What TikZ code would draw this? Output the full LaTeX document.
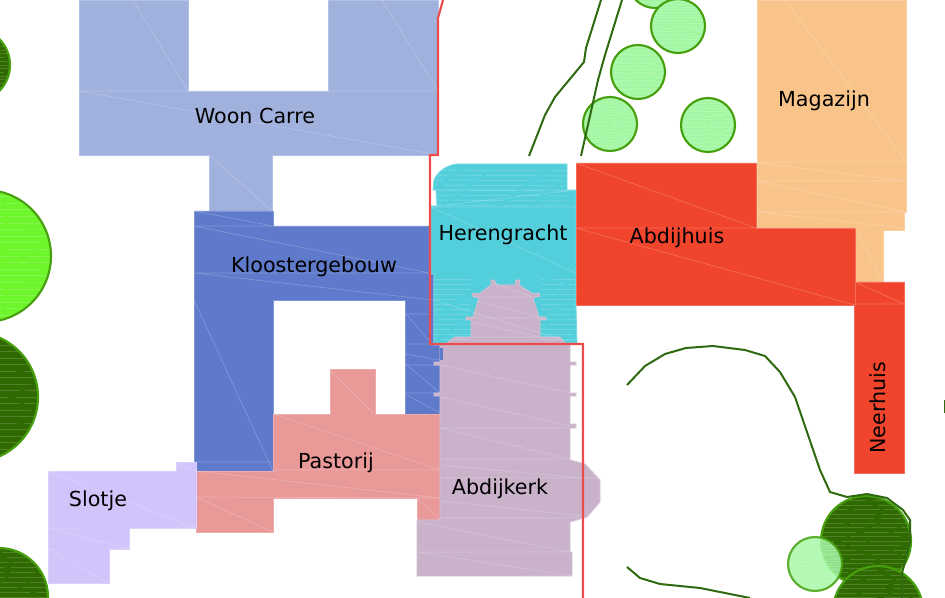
\documentclass[tikz,border=0pt]{standalone}
\usepackage{fontspec}
\setmainfont{DejaVu Sans}
\tikzset{
  building/.style={line width=0.6pt,draw=#1!80!white,fill=#1},
  seam/.style={white,opacity=0.22,line width=0.5pt},
  streak/.style={white,opacity=0.16,line width=0.7pt,dash pattern=on 19pt off 3pt on 38pt off 5pt},
  roomlabel/.style={font=\fontsize{15.5pt}{18pt}\selectfont,text=black,inner sep=0pt},
  pad/.style={line width=1.5pt,draw=pathgreen,line join=round},
  tree/.style={line width=1.6pt,draw=treeedge},
}
\definecolor{woon}{HTML}{A0B1DE}
\definecolor{kloos}{HTML}{5F7ACB}
\definecolor{heren}{HTML}{52CFDB}
\definecolor{kerk}{HTML}{C9B2CA}
\definecolor{past}{HTML}{EA9999}
\definecolor{slot}{HTML}{D1C4FB}
\definecolor{abdij}{HTML}{F0452C}
\definecolor{maga}{HTML}{F9C48A}
\definecolor{pathgreen}{HTML}{2F6A10}
\definecolor{treeedge}{HTML}{46A00E}
\definecolor{treelight}{HTML}{A3F7A3}
\definecolor{treedark}{HTML}{2F6A00}
\definecolor{treebright}{HTML}{6EF52C}
\definecolor{outline}{HTML}{EE4C4C}
\newcommand{\treeat}[4]{%
  \begin{scope}
    \clip (#1,#2) circle (#3);
    \fill[#4] (#1,#2) circle (#3);
    \foreach \k in {-9,...,9}
      \draw[streak,dash phase={mod(\k*\k*11+50,61)*1pt}] (#1-#3,{#2+\k*#3/10}) -- (#1+#3,{#2+\k*#3/10});
  \end{scope}
  \draw[tree] (#1,#2) circle (#3);}
\begin{document}
\begin{tikzpicture}[x=0.75pt,y=-0.75pt]
  \useasboundingbox (0,0) rectangle (945,598);

  % trees on the left
  \treeat{-27}{65}{37}{treedark}
  \treeat{-15}{256}{66}{treebright}
  \treeat{-27}{397}{65}{treedark}
  \treeat{-1}{597}{49}{treedark}
  \draw[pad] (944.5,400) -- (944.5,413);

  % trees on the right
  \treeat{866}{541}{45}{treedark}
  \treeat{878}{611}{45}{treedark}
  \treeat{655}{-19}{27}{treelight}
  \treeat{678}{26}{27}{treelight}
  \treeat{638}{72}{27}{treelight}
  \treeat{610}{124}{27}{treelight}
  \treeat{708}{125}{27}{treelight}
  \begin{scope}[opacity=0.85]
    \treeat{815}{564}{27}{treelight}
  \end{scope}

  % paths
  \draw[pad] (529,156) -- (545,115) -- (555,97) -- (584,62) -- (586,48) -- (601,0);
  \draw[pad] (581,156) -- (598,80) -- (605,55) -- (622,0);
  \draw[pad] (627,385) -- (645,366) -- (665,354) -- (686,348) -- (713,346) -- (745,350) -- (765,356) -- (780,372) -- (795,397) -- (820,470) -- (830,492) -- (847,497) -- (867,494) -- (887,498) -- (903,510) -- (910,520) -- (910,543) -- (902,573) -- (902,598);
  \draw[pad] (627,567) -- (640,578) -- (660,584) -- (700,588) -- (750,598);

  % buildings
  \draw[building=woon] (79,0) -- (188,0) -- (188,91) -- (328,91) -- (328,0) -- (438,0) -- (438,155) -- (272,155) -- (272,211) -- (209,211) -- (209,155) -- (79,155) -- cycle;
  \draw[building=kloos] (194,211) -- (273,211) -- (273,226) -- (430,226) -- (430,273) -- (433,273) -- (433,345) -- (441,345) -- (441,414) -- (405,414) -- (405,300) -- (273,300) -- (273,471) -- (194,471) -- cycle;
  \draw[building=past] (196,471) -- (273,471) -- (273,414) -- (330,414) -- (330,369) -- (375,369) -- (375,414) -- (440,414) -- (440,520) -- (417,520) -- (417,498) -- (273,498) -- (273,532) -- (196,532) -- cycle;
  \draw[building=slot] (48,471) -- (176,471) -- (176,462) -- (196,462) -- (196,528) -- (129,528) -- (129,549) -- (109,549) -- (109,583) -- (48,583) -- cycle;
  \draw[building=heren] (433,190) -- (434,180) .. controls (438,171) and (447,165) .. (457,164) -- (567,164) -- (567,190) -- (576,190) -- (576,305) -- (577,344) -- (434,344) -- (434,274) -- (431,274) -- (431,206) -- (437,206) -- (436,190) -- cycle;
  \draw[building=maga] (757,0) -- (906,0) -- (906,212) -- (904,212) -- (904,230) -- (883,230) -- (883,282) -- (855,282) -- (855,228) -- (757,228) -- cycle;
  \draw[building=abdij] (576,163) -- (756,163) -- (756,228) -- (855,228) -- (855,305) -- (576,305) -- cycle;
  \draw[building=abdij] (855,282) -- (904,282) -- (904,473) -- (854,473) -- (854,305) -- (855,305) -- cycle;

  % abdijkerk with the dome
  \draw[building=kerk] (491,280) -- (494,280) -- (497,285) -- (515,285) -- (516,280) -- (520,280) -- (519,285) -- (533,294) -- (539,293) -- (540,296) -- (533,298) -- (539,317) -- (546,317) -- (546,320) -- (540,320) -- (540,337) -- (560,337) -- (565,343) -- (570,345) -- (570,362) -- (576,362) -- (576,365) -- (570,365) -- (570,393) -- (576,393) -- (576,396) -- (570,396) -- (570,424) -- (576,424) -- (576,428) -- (570,428) -- (570,460) -- (585,464) -- (600,480) -- (600,502) -- (587,517) -- (570,522) -- (570,552) -- (572,552) -- (572,576) -- (417,576) -- (417,520) -- (440,520) -- (440,396) -- (434,396) -- (434,393) -- (440,393) -- (440,365) -- (434,365) -- (434,362) -- (440,362) -- (440,345) -- (447,343) -- (455,337) -- (471,337) -- (471,320) -- (466,320) -- (466,317) -- (473,317) -- (479,298) -- (472,296) -- (473,293) -- (479,294) -- (491,285) -- cycle;
  \fill[kloos] (440,348) rectangle (443,360);

  % seams in the fill
  \draw[seam] (79,91) -- (438,155) (382,0) -- (438,91) (79,91) -- (438,91) (133,0) -- (188,91) (209,155) -- (272,211);
  \draw[seam] (194,211) -- (273,226) (194,226) -- (430,273) (194,273) -- (433,273) (194,273) -- (433,300) (194,300) -- (273,471) (194,462) -- (273,462) (194,226) -- (273,226);
  \draw[seam] (405,314) -- (430,314) (407,315) -- (430,342) (405,344) -- (440,344) (405,354) -- (440,360) (405,365) -- (440,365) (407,365) -- (440,393) (405,393) -- (440,393) (407,395) -- (440,413);
  \draw[seam] (196,471) -- (440,498) (196,497) -- (440,498) (196,497) -- (273,532) (273,414) -- (440,470) (273,470) -- (440,470) (417,498) -- (440,520) (330,370) -- (374,414);
  \draw[seam] (48,471) -- (196,528) (48,528) -- (196,528) (48,528) -- (129,549) (48,549) -- (129,549) (48,549) -- (109,583) (177,463) -- (196,471);
  \draw[seam] (431,207) -- (576,273) (431,207) -- (576,207) (433,300) -- (577,344) (436,190) -- (576,190) (437,206) -- (576,190);
  \draw[seam] (576,163) -- (756,228) (576,228) -- (855,305) (576,228) -- (855,228) (855,282) -- (904,304) (855,304) -- (904,304);
  \draw[seam] (757,162) -- (906,162) (785,0) -- (906,162) (757,163) -- (906,181) (757,181) -- (906,181) (757,181) -- (906,212) (757,212) -- (906,212) (757,212) -- (904,228) (855,228) -- (883,282);
  \draw[seam] (440,365) -- (570,393) (440,397) -- (570,426) (440,428) -- (570,459) (440,428) -- (570,428) (440,459) -- (570,459) (440,465) -- (583,478) (440,478) -- (600,478) (440,501) -- (583,516) (440,518) -- (583,518) (417,522) -- (570,552) (417,552) -- (572,552) (417,552) -- (572,576);
  \draw[seam] (493,283) -- (533,297) (473,300) -- (539,317) (472,322) -- (540,337) (473,297) -- (533,297) (466,318) -- (546,318) (455,337) -- (560,337);

  % streaks in the herengracht
  \begin{scope}
    \clip (433,190) -- (434,180) .. controls (438,171) and (447,165) .. (457,164) -- (567,164) -- (567,206) -- (431,206) -- cycle;
    \foreach \y in {170,175,...,205}
      \draw[streak,dash phase={\y*1pt}] (430,\y) -- (580,\y+1);
  \end{scope}
  \begin{scope}
    \clip (434,274) rectangle (470,344);
    \foreach \y in {279,284,...,344}
      \draw[streak,dash phase={\y*1pt}] (430,\y) -- (580,\y);
  \end{scope}
  \begin{scope}
    \clip (541,274) rectangle (577,344);
    \foreach \y in {279,284,...,344}
      \draw[streak,dash phase={\y*2pt}] (430,\y) -- (580,\y);
  \end{scope}

  % the red line
  \draw[line width=1.6pt,outline,line join=miter] (443,0) -- (438,18) -- (438,155) -- (430,155) -- (430,344) -- (583,344) -- (583,598);

  \node[roomlabel] (woonCarre) at (255,115.5) {Woon Carre};
  \node[roomlabel] (kloostergebouw) at (314,266.5) {Kloostergebouw};
  \node[roomlabel] (herengracht) at (503,235) {Herengracht};
  \node[roomlabel] (abdijhuis) at (677,238) {Abdijhuis};
  \node[roomlabel] (magazijn) at (824,101) {Magazijn};
  \node[roomlabel,rotate=90] (neerhuis) at (878,408) {Neerhuis};
  \node[roomlabel] (pastorij) at (336,463) {Pastorij};
  \node[roomlabel] (abdijkerk) at (500,489) {Abdijkerk};
  \node[roomlabel] (slotje) at (98,500.5) {Slotje};
\end{tikzpicture}
\end{document}
